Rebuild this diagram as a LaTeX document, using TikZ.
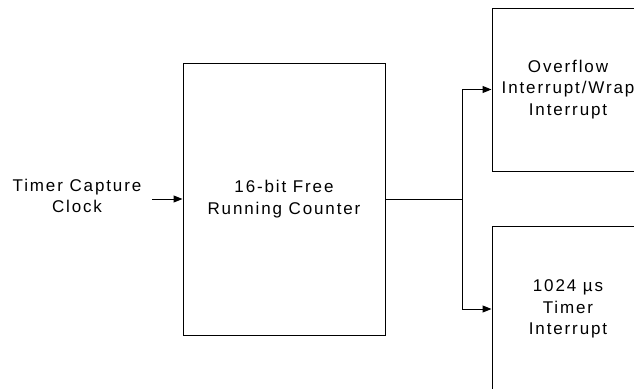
\documentclass[tikz,border=0pt]{standalone}
\usepackage{fontspec}
\setmainfont{Liberation Sans}[LetterSpace=11]
\usetikzlibrary{arrows.meta}
\tikzset{
  blk/.style={draw, line width=1pt, align=center, inner sep=0pt, font=\fontsize{17}{21.5}\selectfont},
  lbl/.style={align=center, inner sep=0pt, font=\fontsize{17}{21.5}\selectfont},
  conn/.style={line width=1pt},
  arr/.style={line width=1pt, -{Triangle[length=9pt,width=7pt]}}
}
\begin{document}
\begin{tikzpicture}[x=1pt,y=-1pt]
\useasboundingbox (0,0) rectangle (634,388);
\clip (0,0) rectangle (634,388);
\node[blk, minimum width=202pt, minimum height=272pt] (cnt) at (284,199) {16-bit Free\\Running Counter};
\node[blk, minimum width=152pt, minimum height=163pt] (ovf) at (568,89.5) {Overflow\\Interrupt/Wrap\\Interrupt};
\node[blk, minimum width=152pt, minimum height=166pt] (tmr) at (568,309) {1024 µs\\Timer\\Interrupt};
\node[lbl] (clk) at (77,196) {Timer Capture\\Clock};
\coordinate (in) at (152,199);
\coordinate (br) at (462,199);
\draw[arr] (in) -- (cnt.west);
\draw[conn] (cnt.east) -- (br);
\draw[arr] (br) |- (ovf.west);
\draw[arr] (br) |- (tmr.west);
\end{tikzpicture}
\end{document}
